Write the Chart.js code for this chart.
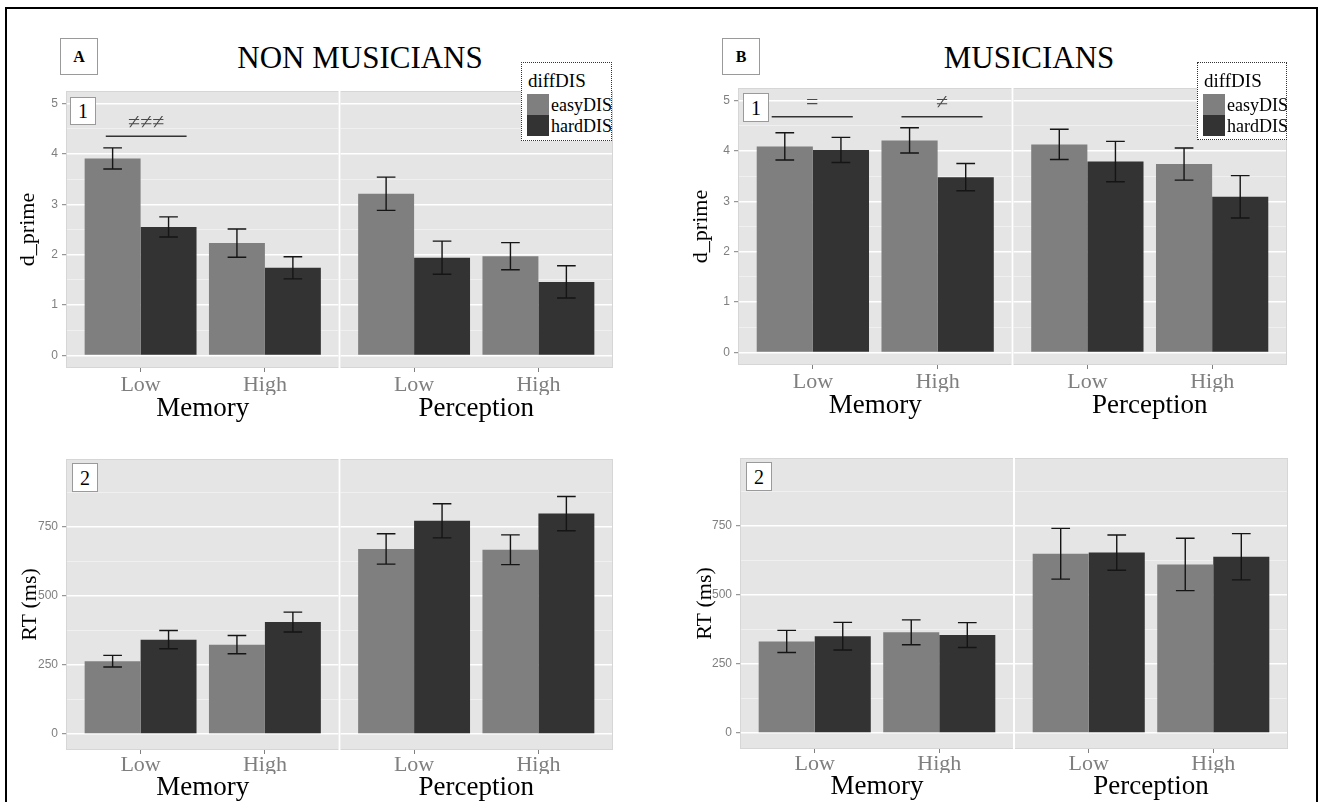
<!DOCTYPE html>
<html>
<head>
<meta charset="utf-8">
<script src="https://cdn.jsdelivr.net/npm/chart.js@4.4.1/dist/chart.umd.min.js"></script>
<style>
  html, body { margin: 0; padding: 0; background: #fff; width: 1318px; height: 802px; overflow: hidden; }
  body { position: relative; font-family: "Liberation Serif", "DejaVu Serif", serif; color: #000; }
  .frame { position: absolute; left: 5px; top: 7px; width: 1313px; height: 830px; border: 2px solid #000; box-sizing: border-box; }
  .tag { position: absolute; background: #fff; border: 1px solid #9a9a9a; box-sizing: border-box;
         display: flex; align-items: center; justify-content: center; line-height: 1; }
  .title { position: absolute; font-size: 31px; transform: translate(-50%, -50%); white-space: nowrap; line-height: 1; }
  .legend { position: absolute; background: #fff; border: 1px dotted #333; box-sizing: border-box; font-size: 18px; }
  .legend div { position: absolute; white-space: nowrap; line-height: 1; }
  canvas { position: absolute; }
</style>
</head>
<body>
<div class="frame"></div>
<script>
// ===== Data =====
// bar order: Memory-Low, Memory-High, Perception-Low, Perception-High
const facets = ["Memory", "Perception"];
const loads = ["Low", "High"];
const seriesNames = ["easyDIS", "hardDIS"];
const seriesColors = ["#7f7f7f", "#333333"];

const nonMusDprimeEasy = [3.91, 2.23, 3.21, 1.97];
const nonMusDprimeEasyErr = [0.21, 0.28, 0.33, 0.27];
const nonMusDprimeHard = [2.55, 1.74, 1.94, 1.46];
const nonMusDprimeHardErr = [0.20, 0.22, 0.33, 0.32];

const musDprimeEasy = [4.09, 4.21, 4.13, 3.74];
const musDprimeEasyErr = [0.27, 0.25, 0.30, 0.32];
const musDprimeHard = [4.02, 3.48, 3.79, 3.09];
const musDprimeHardErr = [0.25, 0.27, 0.40, 0.42];

const nonMusRtEasy = [264, 324, 671, 668];
const nonMusRtEasyErr = [21, 33, 55, 54];
const nonMusRtHard = [342, 406, 773, 799];
const nonMusRtHardErr = [33, 36, 62, 62];

const musRtEasy = [332, 365, 650, 611];
const musRtEasyErr = [40, 45, 92, 95];
const musRtHard = [351, 355, 654, 639];
const musRtHardErr = [50, 45, 64, 84];

const dprimeTicks = [0, 1, 2, 3, 4, 5];
const rtTicks = [0, 250, 500, 750];

// significance bars, in axis units
const nonMusMarks = [{ from: 0.72, to: 1.37, at: 4.35, text: "≠≠≠" }];
const musMarks = [
  { from: 0.67, to: 1.32, at: 4.68, text: "=" },
  { from: 1.71, to: 2.36, at: 4.68, text: "≠" }
];

// ===== Facet layout (ggplot style: 0.6 expansion each side) =====
const FACET_SPAN = 2.2;
const X_MIN = 0.4;
const X_MAX = X_MIN + FACET_SPAN * facets.length;
const CAP = 0.075;

const xPos = [];
facets.forEach((f, fi) => loads.forEach((l, li) => xPos.push(fi * FACET_SPAN + li + 1)));

const panels = [
  { canvasLeft: 15, left: 66, right: 613, top: 91, bottom: 368, tickPad: 2, tickH: 27, facetH: 34,
    yTitle: "d_prime", yMin: -0.25, yMax: 5.25, ticks: dprimeTicks,
    series: [nonMusDprimeEasy, nonMusDprimeHard], errors: [nonMusDprimeEasyErr, nonMusDprimeHardErr],
    marks: nonMusMarks },
  { canvasLeft: 688, left: 738, right: 1287, top: 88, bottom: 365, tickPad: 2, tickH: 27, facetH: 34,
    yTitle: "d_prime", yMin: -0.25, yMax: 5.25, ticks: dprimeTicks,
    series: [musDprimeEasy, musDprimeHard], errors: [musDprimeEasyErr, musDprimeHardErr],
    marks: musMarks },
  { canvasLeft: 17, left: 66, right: 613, top: 459, bottom: 750, tickPad: 0, tickH: 24, facetH: 34,
    yTitle: "RT (ms)", yMin: -58, yMax: 997, ticks: rtTicks,
    series: [nonMusRtEasy, nonMusRtHard], errors: [nonMusRtEasyErr, nonMusRtHardErr],
    marks: [] },
  { canvasLeft: 692, left: 740, right: 1288, top: 458, bottom: 749, tickPad: 0, tickH: 24, facetH: 34,
    yTitle: "RT (ms)", yMin: -58, yMax: 997, ticks: rtTicks,
    series: [musRtEasy, musRtHard], errors: [musRtEasyErr, musRtHardErr],
    marks: [] }
];

// ===== Helpers for the html bits =====
function box(cls, x, y, w, h, text, style) {
  const d = document.createElement("div");
  d.className = cls;
  d.style.left = x + "px";
  d.style.top = y + "px";
  if (w) d.style.width = w + "px";
  if (h) d.style.height = h + "px";
  if (text) d.textContent = text;
  Object.assign(d.style, style || {});
  document.body.appendChild(d);
  return d;
}

function title(text, cx, cy) {
  box("title", cx, cy, 0, 0, text);
}

function legend(x, y, w, h) {
  const lg = box("legend", x, y, w, h);
  const t = document.createElement("div");
  t.textContent = "diffDIS";
  t.style.left = "6px"; t.style.top = "8px"; t.style.fontSize = "19px";
  lg.appendChild(t);
  seriesNames.forEach((name, i) => {
    const sw = document.createElement("div");
    sw.style.left = "5px"; sw.style.top = (31 + i * 21) + "px";
    sw.style.width = "22px"; sw.style.height = "21px";
    sw.style.background = seriesColors[i];
    lg.appendChild(sw);
    const lb = document.createElement("div");
    lb.textContent = name;
    lb.style.left = "29px"; lb.style.top = (33 + i * 21) + "px";
    lg.appendChild(lb);
  });
}

// ===== Chart.js plugin: panel background, facet gap, error bars, marks =====
const facetPlugin = {
  id: "facetPlugin",
  beforeDraw(chart) {
    const { ctx, chartArea: a } = chart;
    ctx.save();
    ctx.fillStyle = "#e5e5e5";
    ctx.fillRect(a.left, a.top, a.width, a.height);
    ctx.restore();
  },
  beforeDatasetsDraw(chart) {
    const { ctx, chartArea: a, scales: { x } } = chart;
    ctx.save();
    ctx.strokeStyle = "#d6d6d6";
    ctx.lineWidth = 1;
    for (let f = 0; f < facets.length; f++) {
      const l = x.getPixelForValue(X_MIN + f * FACET_SPAN);
      const r = x.getPixelForValue(X_MIN + (f + 1) * FACET_SPAN);
      ctx.strokeRect(l + 0.5, a.top + 0.5, r - l - 1, a.height - 1);
    }
    ctx.fillStyle = "#ffffff";
    for (let f = 1; f < facets.length; f++) {
      const px = x.getPixelForValue(X_MIN + f * FACET_SPAN);
      ctx.fillRect(px - 1, a.top, 2, a.height);
    }
    ctx.restore();
  },
  afterDatasetsDraw(chart) {
    const { ctx, scales: { x, y } } = chart;
    const half = x.getPixelForValue(CAP) - x.getPixelForValue(0);
    ctx.save();
    ctx.strokeStyle = "#151515";
    ctx.lineWidth = 1.4;
    chart.data.datasets.forEach((ds, di) => {
      chart.getDatasetMeta(di).data.forEach((bar, i) => {
        const v = ds.data[i].y, e = ds.err[i];
        const y1 = y.getPixelForValue(v + e), y2 = y.getPixelForValue(v - e);
        ctx.beginPath();
        ctx.moveTo(bar.x, y1); ctx.lineTo(bar.x, y2);
        ctx.moveTo(bar.x - half, y1); ctx.lineTo(bar.x + half, y1);
        ctx.moveTo(bar.x - half, y2); ctx.lineTo(bar.x + half, y2);
        ctx.stroke();
      });
    });
    ctx.restore();
  },
  afterDraw(chart) {
    const { ctx, scales: { x, y } } = chart;
    const marks = chart.options.plugins.facetPlugin.marks;
    ctx.save();
    marks.forEach(m => {
      const py = y.getPixelForValue(m.at);
      ctx.strokeStyle = "#333";
      ctx.lineWidth = 1.5;
      ctx.beginPath();
      ctx.moveTo(x.getPixelForValue(m.from), py);
      ctx.lineTo(x.getPixelForValue(m.to), py);
      ctx.stroke();
      ctx.fillStyle = "#4a4a4a";
      ctx.font = '22px "Liberation Serif"';
      ctx.textAlign = "center";
      ctx.textBaseline = "middle";
      ctx.fillText(m.text, x.getPixelForValue((m.from + m.to) / 2), py - 13);
    });
    ctx.restore();
  }
};

function makePanel(p) {
  const w = p.right - p.canvasLeft + 12;
  const h = (p.bottom - p.top) + p.tickH + p.facetH;
  const canvas = document.createElement("canvas");
  canvas.width = w; canvas.height = h;
  canvas.style.left = p.canvasLeft + "px";
  canvas.style.top = p.top + "px";
  canvas.style.width = w + "px";
  canvas.style.height = h + "px";
  document.body.appendChild(canvas);

  const step = p.ticks[1] - p.ticks[0];
  const minors = p.ticks.map(v => v + step / 2).filter(v => v < p.yMax);
  const allY = p.ticks.concat(minors).sort((a, b) => a - b);
  const isMajor = v => p.ticks.includes(v);

  new Chart(canvas, {
    type: "bar",
    data: {
      datasets: p.series.map((vals, si) => ({
        label: seriesNames[si],
        data: vals.map((v, i) => ({ x: xPos[i], y: v })),
        err: p.errors[si],
        backgroundColor: seriesColors[si],
        borderWidth: 0,
        categoryPercentage: 0.9,
        barPercentage: 1.0
      }))
    },
    options: {
      responsive: false,
      animation: false,
      events: [],
      layout: { padding: { left: 0, right: 12, top: 0, bottom: 0 } },
      plugins: {
        legend: { display: false },
        tooltip: { enabled: false },
        facetPlugin: { marks: p.marks }
      },
      scales: {
        x: {
          type: "linear",
          position: "bottom",
          offset: false,
          min: X_MIN, max: X_MAX,
          afterBuildTicks: s => { s.ticks = xPos.map(v => ({ value: v })); },
          afterFit: s => { s.height = p.tickH; s.paddingLeft = 0; s.paddingRight = 0; },
          ticks: {
            callback: (v, i) => loads[i % loads.length],
            autoSkip: false, maxRotation: 0, padding: p.tickPad,
            color: "#7f7f7f",
            font: { family: "Liberation Serif", size: 22, lineHeight: 1 }
          },
          grid: { display: true, offset: false, drawOnChartArea: false, drawTicks: true, tickLength: 4, tickColor: "#7f7f7f", tickWidth: 1 },
          border: { display: false }
        },
        facet: {
          type: "linear",
          position: "bottom",
          offset: false,
          weight: 1,
          min: X_MIN, max: X_MAX,
          afterBuildTicks: s => { s.ticks = facets.map((f, i) => ({ value: i * FACET_SPAN + 1.5 })); },
          afterFit: s => { s.height = p.facetH; s.paddingLeft = 0; s.paddingRight = 0; },
          ticks: {
            callback: (v, i) => facets[i],
            autoSkip: false, maxRotation: 0, padding: 0,
            color: "#000",
            font: { family: "Liberation Serif", size: 27, lineHeight: 1 }
          },
          grid: { display: false, offset: false, drawTicks: false },
          border: { display: false }
        },
        y: {
          type: "linear",
          min: p.yMin, max: p.yMax,
          afterBuildTicks: s => { s.ticks = allY.map(v => ({ value: v })); },
          afterFit: s => { s.width = p.left - p.canvasLeft; s.paddingTop = 0; s.paddingBottom = 0; },
          ticks: {
            callback: v => isMajor(v) ? String(v) : "",
            padding: 4,
            color: "#7f7f7f",
            font: { family: "Liberation Sans", size: 12 }
          },
          grid: {
            color: c => isMajor(c.tick.value) ? "#ffffff" : "#f2f2f2",
            lineWidth: c => isMajor(c.tick.value) ? 1.4 : 0.8,
            tickColor: c => isMajor(c.tick.value) ? "#7f7f7f" : "rgba(0,0,0,0)",
            tickLength: 4,
            tickWidth: 1
          },
          border: { display: false },
          title: {
            display: true,
            text: p.yTitle,
            color: "#000",
            padding: 0,
            font: { family: "Liberation Serif", size: 22 }
          }
        }
      }
    },
    plugins: [facetPlugin]
  });
}

panels.forEach(makePanel);

// ===== Panel tags, titles, legends =====
box("tag", 60, 38, 38, 37, "A", { fontWeight: "bold", fontSize: "16px" });
box("tag", 722, 38, 38, 37, "B", { fontWeight: "bold", fontSize: "16px" });
title("NON MUSICIANS", 360, 57);
title("MUSICIANS", 1029, 57);
box("tag", 70, 97, 26, 28, "1", { fontSize: "20px" });
box("tag", 743, 93, 26, 29, "1", { fontSize: "20px" });
box("tag", 72, 463, 26, 29, "2", { fontSize: "20px" });
box("tag", 746, 462, 26, 29, "2", { fontSize: "20px" });
legend(521, 62, 91, 79);
legend(1197, 62, 90, 78);
</script>
</body>
</html>
